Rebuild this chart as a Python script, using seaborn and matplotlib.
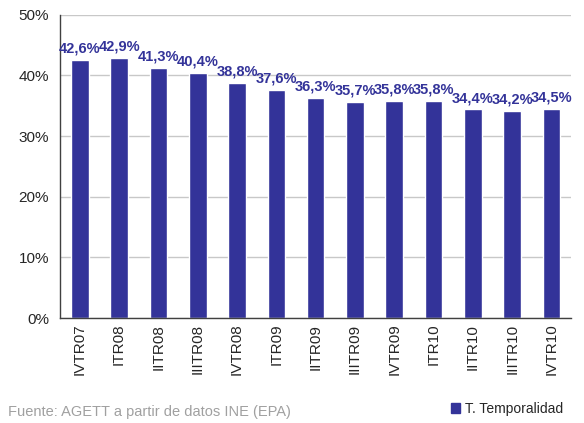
import numpy as np
import pandas as pd
import matplotlib
matplotlib.use("Agg")
import matplotlib.pyplot as plt
import seaborn as sns
from matplotlib.patches import Patch

# Data
quarters = ["IVTR07", "ITR08", "IITR08", "IIITR08", "IVTR08", "ITR09", "IITR09",
            "IIITR09", "IVTR09", "ITR10", "IITR10", "IIITR10", "IVTR10"]
temporalidad = [42.6, 42.9, 41.3, 40.4, 38.8, 37.6, 36.3, 35.7, 35.8, 35.8, 34.4, 34.2, 34.5]
y_ticks = [0, 10, 20, 30, 40, 50]

df = pd.DataFrame({"quarter": quarters, "value": temporalidad})

sns.set_style("white")
plt.rcParams['font.family'] = ['Liberation Sans', 'DejaVu Sans']

bar_color = "#333399"

fig = plt.figure(figsize=(5.84, 4.23), dpi=100)
ax = fig.add_axes([0.103, 0.248, 0.875, 0.717])

sns.barplot(data=df, x="quarter", y="value", color=bar_color, width=0.45,
            saturation=1, ax=ax)

# Value labels
labels = [f"{v:.1f}%".replace(".", ",") for v in temporalidad]
ax.bar_label(ax.containers[0], labels=labels, padding=3, fontsize=10.5,
             fontweight="bold", color=bar_color)

ax.set_ylim(0, 50)
ax.set_xlim(-0.5, len(quarters) - 0.5)
ax.set_yticks(y_ticks)
ax.set_yticklabels([f"{t}%" for t in y_ticks], fontsize=11)
ax.yaxis.grid(True, color="#c8c8c8", linewidth=1)
ax.set_axisbelow(True)

ax.set_xticks(range(len(quarters)))
ax.set_xticklabels(quarters, rotation=90, fontsize=11)
ax.set_xticks(np.arange(-0.5, len(quarters)), minor=True)
ax.tick_params(axis="x", which="major", length=0, pad=4)
ax.tick_params(axis="x", which="minor", length=5, width=1, color="#404040", direction="out")
ax.tick_params(axis="y", length=5, width=1, color="#404040", direction="out", pad=3)

ax.set_xlabel("")
ax.set_ylabel("")
for side in ["top", "right"]:
    ax.spines[side].set_visible(False)
for side in ["left", "bottom"]:
    ax.spines[side].set_color("#404040")
    ax.spines[side].set_linewidth(1)

fig.text(0.013, 0.01, "Fuente: AGETT a partir de datos INE (EPA)", color="#a0a0a0",
         fontsize=10.5, ha="left", va="bottom")

handle = Patch(facecolor=bar_color, edgecolor=bar_color)
fig.legend(handles=[handle], labels=["T. Temporalidad"], loc="lower right",
           bbox_to_anchor=(0.985, -0.012), frameon=False, fontsize=10,
           handlelength=0.7, handleheight=0.7, handletextpad=0.3)

fig.savefig("out.png", dpi=100)
